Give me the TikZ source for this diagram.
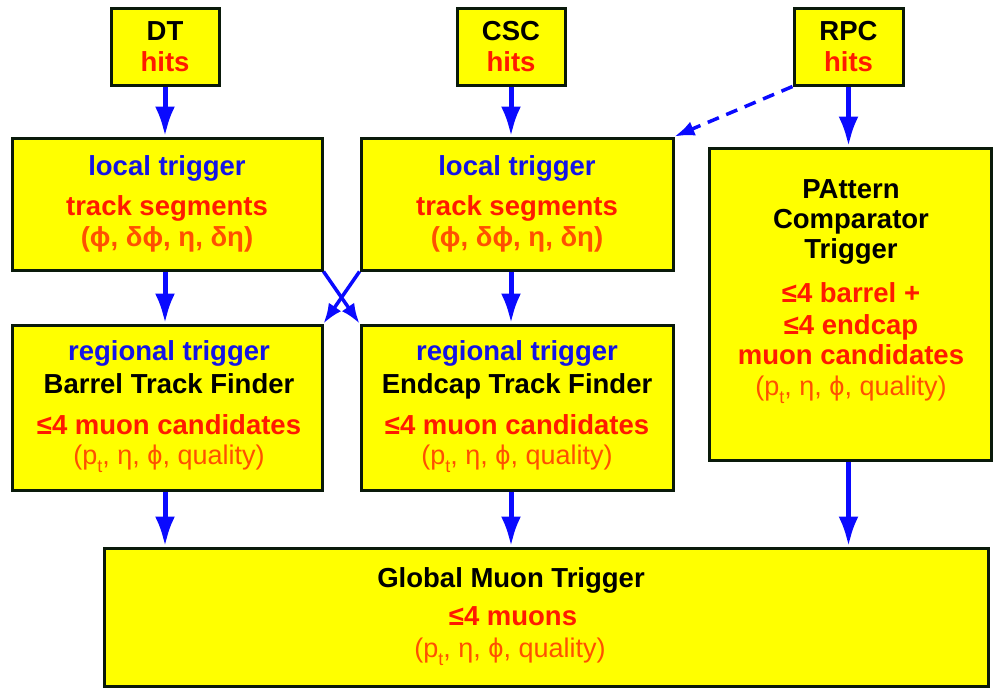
\documentclass[tikz,border=0pt]{standalone}
\usepackage{fontspec}
\setmainfont{Liberation Sans}
\usetikzlibrary{arrows.meta}
\definecolor{boxfill}{HTML}{FFFF00}
\definecolor{boxline}{HTML}{0A1A0A}
\definecolor{flowblue}{HTML}{0A0AFF}
\definecolor{txtblue}{HTML}{1414E6}
\definecolor{txtred}{HTML}{FF1A00}
\definecolor{txtorange}{HTML}{FF5000}
\newcommand{\ptsub}{p\raisebox{-0.32em}{\fontsize{18}{18}\selectfont t}}
\newcommand{\vphi}{ϕ}
\tikzset{
  stage/.style={draw=boxline, fill=boxfill, line width=3pt, inner sep=0pt},
  lbl/.style={anchor=base, inner sep=0pt, font=\fontsize{27.5}{31}\selectfont\bfseries},
  lblthin/.style={anchor=base, inner sep=0pt, font=\fontsize{27}{31}\selectfont},
  flow/.style={draw=flowblue, line width=5pt, -{Latex[length=30pt,width=20pt]}},
  cross/.style={draw=flowblue, line width=3.5pt, -{Latex[length=20pt,width=15pt]}},
  optional/.style={cross, dash pattern=on 12pt off 8pt}
}
\begin{document}
\begin{tikzpicture}[x=1pt,y=-1pt]
\useasboundingbox (0,0) rectangle (1004,694);

% detector hit sources
\node[stage, minimum width=108, minimum height=77] (dt)  at (165,46.5) {};
\node[stage, minimum width=108, minimum height=77] (csc) at (511,46.5) {};
\node[stage, minimum width=109, minimum height=77] (rpc) at (848.5,46.5) {};

% local triggers
\node[stage, minimum width=310, minimum height=132] (lt1) at (167,204) {};
\node[stage, minimum width=312, minimum height=132] (lt2) at (517,204) {};

% pattern comparator
\node[stage, minimum width=282, minimum height=312] (pact) at (850,304) {};

% regional triggers
\node[stage, minimum width=310, minimum height=165] (rt1) at (167,407.5) {};
\node[stage, minimum width=312, minimum height=165] (rt2) at (517,407.5) {};

% global trigger
\node[stage, minimum width=884, minimum height=138] (gmt) at (546,617) {};

% labels: hit sources
\node[lbl, text=black]  (dtA)  at (165,40) {DT};
\node[lbl, text=txtred] (dtB)  at (165,71) {hits};
\node[lbl, text=black]  (cscA) at (511,40) {CSC};
\node[lbl, text=txtred] (cscB) at (511,71) {hits};
\node[lbl, text=black]  (rpcA) at (848.5,40) {RPC};
\node[lbl, text=txtred] (rpcB) at (848.5,71) {hits};

% labels: local triggers
\node[lbl, text=txtblue]   (lt1A) at (167,175) {local trigger};
\node[lbl, text=txtred]    (lt1B) at (167,215) {track segments};
\node[lbl, text=txtorange] (lt1C) at (167,246) {(\vphi, δ\vphi, η, δη)};
\node[lbl, text=txtblue]   (lt2A) at (517,175) {local trigger};
\node[lbl, text=txtred]    (lt2B) at (517,215) {track segments};
\node[lbl, text=txtorange] (lt2C) at (517,246) {(\vphi, δ\vphi, η, δη)};

% labels: pattern comparator
\node[lbl, text=black]   (pcA) at (851,198) {PAttern};
\node[lbl, text=black]   (pcB) at (851,228) {Comparator};
\node[lbl, text=black]   (pcC) at (851,258) {Trigger};
\node[lbl, text=txtred]  (pcD) at (851,302) {≤4 barrel +};
\node[lbl, text=txtred]  (pcE) at (851,334) {≤4 endcap};
\node[lbl, text=txtred]  (pcF) at (851,364) {muon candidates};
\node[lblthin, text=txtorange] (pcG) at (851,395) {(\ptsub, η, \vphi, quality)};

% labels: regional triggers
\node[lbl, text=txtblue]  (rt1A) at (169,360) {regional trigger};
\node[lbl, text=black]    (rt1B) at (169,393) {Barrel Track Finder};
\node[lbl, text=txtred]   (rt1C) at (169,434) {≤4 muon candidates};
\node[lblthin, text=txtorange] (rt1D) at (169,464) {(\ptsub, η, \vphi, quality)};
\node[lbl, text=txtblue]  (rt2A) at (517,360) {regional trigger};
\node[lbl, text=black]    (rt2B) at (517,393) {Endcap Track Finder};
\node[lbl, text=txtred]   (rt2C) at (517,434) {≤4 muon candidates};
\node[lblthin, text=txtorange] (rt2D) at (517,464) {(\ptsub, η, \vphi, quality)};

% labels: global trigger
\node[lbl, text=black]   (gmA) at (511,587) {Global Muon Trigger};
\node[lbl, text=txtred]  (gmB) at (513,625) {≤4 muons};
\node[lblthin, text=txtorange] (gmC) at (510,657) {(\ptsub, η, \vphi, quality)};

% data flow
\draw[flow] (dt.south)  -- (dt.south |- lt1.north);
\draw[flow] (csc.south) -- (csc.south |- lt2.north);
\draw[flow] (rpc.south) -- (rpc.south |- pact.north);
\draw[optional] (rpc.south west) -- (lt2.north east);

\draw[flow] (dt.south |- lt1.south)  -- (dt.south |- rt1.north);
\draw[flow] (csc.south |- lt2.south) -- (csc.south |- rt2.north);
\draw[cross] (lt1.south east) -- (rt2.north west);
\draw[cross] (lt2.south west) -- (rt1.north east);

\draw[flow] (dt.south |- rt1.south)  -- (dt.south |- gmt.north);
\draw[flow] (csc.south |- rt2.south) -- (csc.south |- gmt.north);
\draw[flow] (rpc.south |- pact.south) -- (rpc.south |- gmt.north);
\end{tikzpicture}
\end{document}
